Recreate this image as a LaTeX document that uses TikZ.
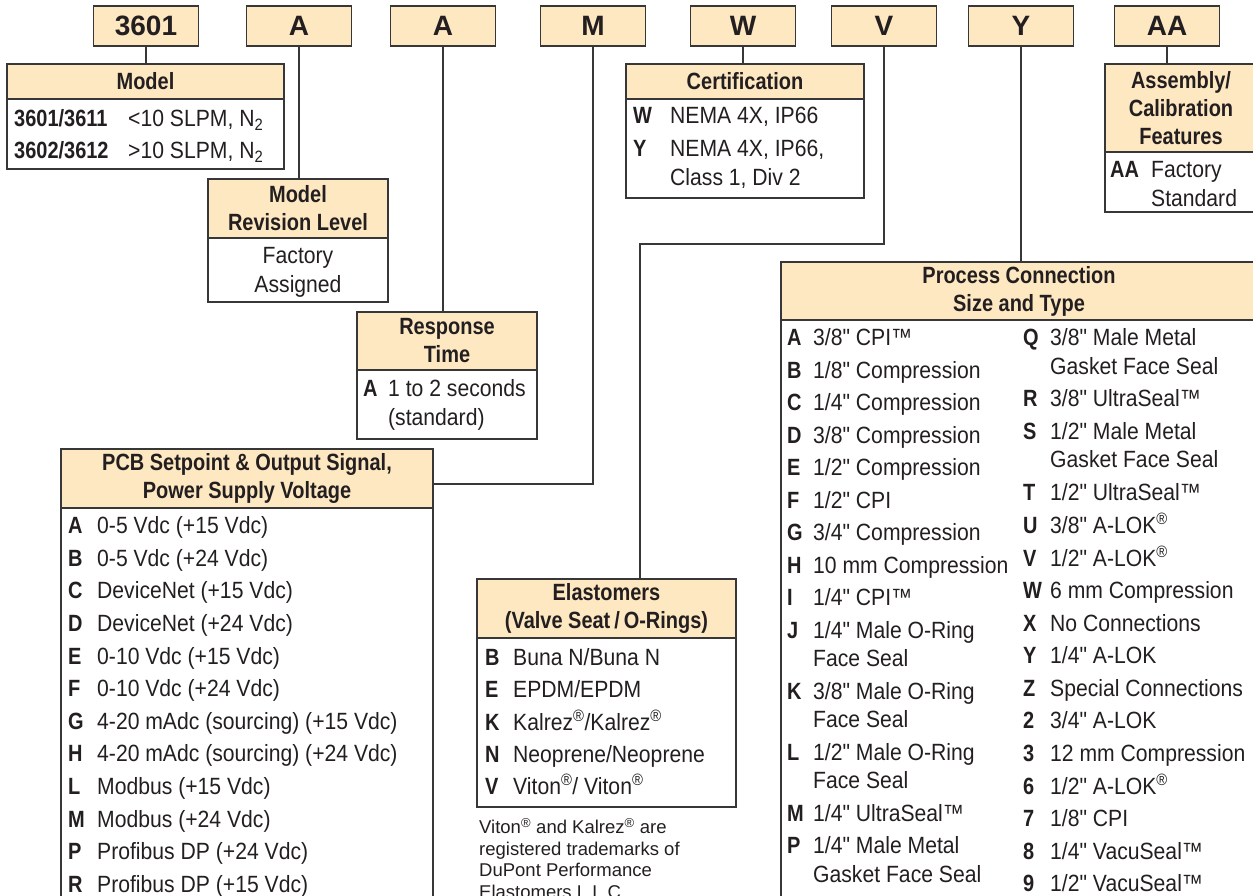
\documentclass[tikz,border=0pt]{standalone}
\usepackage{fontspec}
\setmainfont{Liberation Sans}[Ligatures=TeXOff,FakeStretch=0.9,BoldFeatures={FakeStretch=0.85}]
\newfontfamily\codefont{Liberation Sans}
\usetikzlibrary{positioning}
\definecolor{peach}{RGB}{254,232,194}
\definecolor{ink}{RGB}{35,31,32}
\definecolor{rule}{RGB}{55,55,55}
\newcommand{\itm}[3][27pt]{\makebox[#1][l]{\textbf{#2}}#3}
\newcommand{\cnt}[2][27pt]{\hspace*{#1}#2}
\newcommand{\reg}{\textsuperscript{®}}

\begin{document}
\begin{tikzpicture}[x=1pt,y=-1pt,every node/.append style={text=ink},
  code/.style={draw=rule,line width=1.8pt,fill=peach,minimum width=105pt,minimum height=40pt,inner sep=0pt,outer sep=0pt,font=\codefont\bfseries\fontsize{28}{30}\selectfont},
  head/.style={draw=rule,line width=1.8pt,fill=peach,inner sep=0pt,outer sep=0pt,align=center,font=\bfseries\fontsize{23.5}{28}\selectfont},
  body/.style={draw=rule,line width=1.8pt,fill=white,inner sep=0pt,outer sep=0pt,below=0pt of #1},
  lst/.style={anchor=north west,inner sep=0pt,font=\fontsize{23.5}{28.5}\selectfont},
  wire/.style={draw=rule,line width=1.5pt}]
\useasboundingbox (0,0) rectangle (1253,896);
\clip (0,0) rectangle (1253,896);

\node[code] at (146,26) (k3601) {3601};
\node[code] at (299,26) (kRev) {A};
\node[code] at (443,26) (kRsp) {A};
\node[code] at (593,26) (kPcb) {M};
\node[code] at (743,26) (kCrt) {W};
\node[code] at (884,26) (kElm) {V};
\node[code] at (1021,26) (kPrc) {Y};
\node[code] at (1167,26) (kAsm) {AA};

\node[head,minimum width=277pt,minimum height=35pt] at (145.5,81.5) (mdlh) {Model};
\node[body=mdlh,minimum width=277pt,minimum height=70pt] (mdlb) {};
\node[lst] at ([xshift=7pt,yshift=-7.5pt]mdlb.north west) (mdlt) {\begin{tabular}{@{}l@{}}
\itm[114pt]{3601/3611}{<10 SLPM, N\textsubscript{2}}\\[3.5pt]
\itm[114pt]{3602/3612}{>10 SLPM, N\textsubscript{2}}
\end{tabular}};

\node[head,minimum width=180pt,minimum height=59pt] at (298,208.5) (revh) {Model\\Revision Level};
\node[body=revh,minimum width=180pt,minimum height=64pt] (revb) {};
\node[lst,anchor=north] at ([yshift=-5.5pt]revb.north) (revt) {\begin{tabular}{@{}c@{}}
Factory\\ Assigned
\end{tabular}};

\node[head,minimum width=180pt,minimum height=58pt] at (447,341) (rsph) {Response\\Time};
\node[body=rsph,minimum width=180pt,minimum height=69pt] (rspb) {};
\node[lst] at ([xshift=6pt,yshift=-6.5pt]rspb.north west) (rspt) {\begin{tabular}{@{}l@{}}
\itm[25pt]{A}{1 to 2 seconds}\\
\cnt[25pt]{(standard)}
\end{tabular}};

\node[head,minimum width=238pt,minimum height=35pt] at (745,81.5) (crth) {Certification};
\node[body=crth,minimum width=238pt,minimum height=99pt] (crtb) {};
\node[lst] at ([xshift=7pt,yshift=-4.5pt]crtb.north west) (crtt) {\begin{tabular}{@{}l@{}}
\itm[37pt]{W}{NEMA 4X, IP66}\\[4.5pt]
\itm[37pt]{Y}{NEMA 4X, IP66,}\\
\cnt[37pt]{Class 1, Div 2}
\end{tabular}};

\node[head,minimum width=152pt,minimum height=88pt] at (1181,108) (asmh) {Assembly/\\Calibration\\Features};
\node[body=asmh,minimum width=152pt,minimum height=60pt] (asmb) {};
\node[lst] at ([xshift=5pt,yshift=-5.5pt]asmb.north west) (asmt) {\begin{tabular}{@{}l@{}}
\itm[41pt]{AA}{Factory}\\
\cnt[41pt]{Standard}
\end{tabular}};

\node[head,minimum width=476pt,minimum height=58pt] at (1019,291) (prch) {Process Connection\\Size and Type};
\node[body=prch,minimum width=476pt,minimum height=600pt] (prcb) {};
\node[lst] at ([xshift=6pt,yshift=-5.5pt]prcb.north west) (prct1) {\begin{tabular}{@{}l@{}}
\itm[26pt]{A}{3/8" CPI™}\\[4pt]
\itm[26pt]{B}{1/8" Compression}\\[4pt]
\itm[26pt]{C}{1/4" Compression}\\[4pt]
\itm[26pt]{D}{3/8" Compression}\\[4pt]
\itm[26pt]{E}{1/2" Compression}\\[4pt]
\itm[26pt]{F}{1/2" CPI}\\[4pt]
\itm[26pt]{G}{3/4" Compression}\\[4pt]
\itm[26pt]{H}{10 mm Compression}\\[4pt]
\itm[26pt]{I}{1/4" CPI™}\\[4pt]
\itm[26pt]{J}{1/4" Male O-Ring}\\
\cnt[26pt]{Face Seal}\\[4pt]
\itm[26pt]{K}{3/8" Male O-Ring}\\
\cnt[26pt]{Face Seal}\\[4pt]
\itm[26pt]{L}{1/2" Male O-Ring}\\
\cnt[26pt]{Face Seal}\\[4pt]
\itm[26pt]{M}{1/4" UltraSeal™}\\[4pt]
\itm[26pt]{P}{1/4" Male Metal}\\
\cnt[26pt]{Gasket Face Seal}
\end{tabular}};
\node[lst] at ([xshift=242pt,yshift=-5.5pt]prcb.north west) (prct2) {\begin{tabular}{@{}l@{}}
\itm{Q}{3/8" Male Metal}\\
\cnt{Gasket Face Seal}\\[4pt]
\itm{R}{3/8" UltraSeal™}\\[4pt]
\itm{S}{1/2" Male Metal}\\
\cnt{Gasket Face Seal}\\[4pt]
\itm{T}{1/2" UltraSeal™}\\[4pt]
\itm{U}{3/8" A-LOK\reg}\\[4pt]
\itm{V}{1/2" A-LOK\reg}\\[4pt]
\itm{W}{6 mm Compression}\\[4pt]
\itm{X}{No Connections}\\[4pt]
\itm{Y}{1/4" A-LOK}\\[4pt]
\itm{Z}{Special Connections}\\[4pt]
\itm{2}{3/4" A-LOK}\\[4pt]
\itm{3}{12 mm Compression}\\[4pt]
\itm{6}{1/2" A-LOK\reg}\\[4pt]
\itm{7}{1/8" CPI}\\[4pt]
\itm{8}{1/4" VacuSeal™}\\[4pt]
\itm{9}{1/2" VacuSeal™}
\end{tabular}};

\node[head,minimum width=372pt,minimum height=59pt] at (247,478.5) (pcbh) {PCB Setpoint \& Output Signal,\\Power Supply Voltage};
\node[body=pcbh,minimum width=372pt,minimum height=420pt] (pcbb) {};
\node[lst] at ([xshift=7pt,yshift=-5.5pt]pcbb.north west) (pcbt) {\begin{tabular}{@{}l@{}}
\itm[29pt]{A}{0-5 Vdc (+15 Vdc)}\\[4.1pt]
\itm[29pt]{B}{0-5 Vdc (+24 Vdc)}\\[4.1pt]
\itm[29pt]{C}{DeviceNet (+15 Vdc)}\\[4.1pt]
\itm[29pt]{D}{DeviceNet (+24 Vdc)}\\[4.1pt]
\itm[29pt]{E}{0-10 Vdc (+15 Vdc)}\\[4.1pt]
\itm[29pt]{F}{0-10 Vdc (+24 Vdc)}\\[4.1pt]
\itm[29pt]{G}{4-20 mAdc (sourcing) (+15 Vdc)}\\[4.1pt]
\itm[29pt]{H}{4-20 mAdc (sourcing) (+24 Vdc)}\\[4.1pt]
\itm[29pt]{L}{Modbus (+15 Vdc)}\\[4.1pt]
\itm[29pt]{M}{Modbus (+24 Vdc)}\\[4.1pt]
\itm[29pt]{P}{Profibus DP (+24 Vdc)}\\[4.1pt]
\itm[29pt]{R}{Profibus DP (+15 Vdc)}
\end{tabular}};

\node[head,minimum width=259pt,minimum height=59pt] at (606.5,608.5) (elmh) {Elastomers\\(Valve Seat\,/\,O-Rings)};
\node[body=elmh,minimum width=259pt,minimum height=169pt] (elmb) {};
\node[lst] at ([xshift=8pt,yshift=-7.5pt]elmb.north west) (elmt) {\begin{tabular}{@{}l@{}}
\itm[28pt]{B}{Buna N/Buna N}\\[3.5pt]
\itm[28pt]{E}{EPDM/EPDM}\\[3.5pt]
\itm[28pt]{K}{Kalrez\reg/Kalrez\reg}\\[3.5pt]
\itm[28pt]{N}{Neoprene/Neoprene}\\[3.5pt]
\itm[28pt]{V}{Viton\reg/ Viton\reg}
\end{tabular}};
\node[anchor=north west,inner sep=0pt,align=left,font=\codefont\fontsize{18.5}{21.5}\selectfont] at (479,818) (note) {Viton\reg{} and Kalrez\reg{} are\\registered trademarks of\\DuPont Performance\\Elastomers L.L.C.};

\coordinate (elmbend) at (640,244);
\path[wire]
(k3601.south) -- (k3601.south |- mdlh.north)
(kRev.south) -- (kRev.south |- revh.north)
(kRsp.south) -- (kRsp.south |- rsph.north)
(kPcb.south) |- ([yshift=-5.5pt]pcbh.east)
(kCrt.south) -- (kCrt.south |- crth.north)
(kElm.south) |- (elmbend) -- (elmbend |- elmh.north)
(kPrc.south) -- (kPrc.south |- prch.north)
(kAsm.south) -- (kAsm.south |- asmh.north)
;
\end{tikzpicture}
\end{document}
